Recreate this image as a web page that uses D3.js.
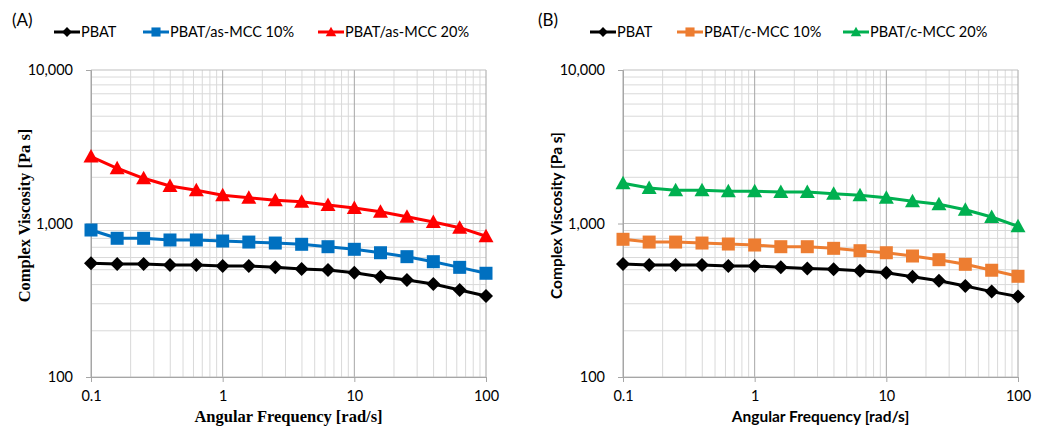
<!DOCTYPE html>
<html>
<head>
<meta charset="utf-8">
<script src="https://d3js.org/d3.v7.min.js"></script>
<style>
  body { margin: 0; background: #fff; }
  svg { display: block; }
</style>
</head>
<body>
<div id="chart"></div>
<script>
// angular frequency (rad/s), shared by all series
var freq = [0.1, 0.158, 0.251, 0.398, 0.631, 1, 1.58, 2.51, 3.98, 6.31, 10, 15.8, 25.1, 39.8, 63.1, 100];

// panel (A)
var pbatA    = [551, 545, 545, 537, 537, 529, 529, 518, 506, 498, 478, 450, 428, 403, 369, 337];
var asMcc10  = [907, 801, 801, 781, 781, 769, 757, 746, 732, 706, 679, 645, 608, 564, 518, 474];
var asMcc20  = [2730, 2290, 1970, 1755, 1645, 1527, 1472, 1416, 1387, 1320, 1262, 1194, 1107, 1023, 939, 826];

// panel (B)
var pbatB    = [545, 537, 537, 537, 529, 529, 518, 510, 503, 493, 478, 450, 424, 392, 360, 334];
var cMcc10   = [789, 757, 757, 746, 735, 724, 706, 706, 689, 665, 645, 614, 581, 542, 496, 453];
var cMcc20   = [1828, 1703, 1646, 1646, 1622, 1622, 1604, 1604, 1563, 1527, 1472, 1396, 1334, 1230, 1103, 959];

var xTicks = [0.1, 1, 10, 100];
var yTicks = [100, 1000, 10000];

var width = 1046, height = 427;
var svg = d3.select("#chart").append("svg")
  .attr("width", width)
  .attr("height", height);

var sans = "Lato, 'Liberation Sans', sans-serif";
var serif = "'Liberation Serif', 'DejaVu Serif', serif";

var panels = [
  {
    tag: "(A)", tagX: 12, left: 91, right: 486, titleFont: serif, titleSize: "16.5px",
    legendX: [54, 143, 318],
    series: [
      { name: "PBAT", values: pbatA, color: "#000000", marker: "diamond" },
      { name: "PBAT/as-MCC 10%", values: asMcc10, color: "#0070C0", marker: "square" },
      { name: "PBAT/as-MCC 20%", values: asMcc20, color: "#FF0000", marker: "triangle" }
    ]
  },
  {
    tag: "(B)", tagX: 538, left: 623, right: 1018, titleFont: sans, titleSize: "15.5px",
    legendX: [590, 677, 843],
    series: [
      { name: "PBAT", values: pbatB, color: "#000000", marker: "diamond" },
      { name: "PBAT/c-MCC 10%", values: cMcc10, color: "#ED7D31", marker: "square" },
      { name: "PBAT/c-MCC 20%", values: cMcc20, color: "#00B050", marker: "triangle" }
    ]
  }
];

var plotTop = 70, plotBottom = 377;

function markerPath(type) {
  if (type == "diamond") return "M0,-7L7,0L0,7L-7,0Z";
  if (type == "square") return "M-6.5,-6.5H6.5V6.5H-6.5Z";
  return "M0,-7.5L7.5,6L-7.5,6Z";
}

// minor values for log grid
function minors(lo, hi) {
  var out = [];
  for (var p = lo; p < hi; p *= 10) {
    for (var k = 2; k <= 9; k++) out.push(p * k);
  }
  return out;
}

panels.forEach(function(p) {
  var x = d3.scaleLog().domain([0.1, 100]).range([p.left, p.right]);
  var y = d3.scaleLog().domain([100, 10000]).range([plotBottom, plotTop]);
  var g = svg.append("g");

  // gridlines
  g.selectAll(".vminor").data(minors(0.1, 100)).enter().append("line")
    .attr("x1", function(d) { return x(d); }).attr("x2", function(d) { return x(d); })
    .attr("y1", plotTop).attr("y2", plotBottom)
    .attr("stroke", "#d9d9d9").attr("stroke-width", 1);
  g.selectAll(".hminor").data(minors(100, 10000)).enter().append("line")
    .attr("y1", function(d) { return y(d); }).attr("y2", function(d) { return y(d); })
    .attr("x1", p.left).attr("x2", p.right)
    .attr("stroke", "#d9d9d9").attr("stroke-width", 1);
  g.selectAll(".vmajor").data(xTicks).enter().append("line")
    .attr("x1", function(d) { return x(d); }).attr("x2", function(d) { return x(d); })
    .attr("y1", plotTop).attr("y2", plotBottom)
    .attr("stroke", "#a6a6a6").attr("stroke-width", 1);
  g.selectAll(".hmajor").data(yTicks).enter().append("line")
    .attr("y1", function(d) { return y(d); }).attr("y2", function(d) { return y(d); })
    .attr("x1", p.left).attr("x2", p.right)
    .attr("stroke", "#bfbfbf").attr("stroke-width", 1);

  // axes
  var xAxis = d3.axisBottom(x).tickValues(xTicks).tickSize(5).tickPadding(9)
    .tickFormat(function(d) { return d < 1 ? d3.format(".1f")(d) : d3.format("d")(d); });
  var yAxis = d3.axisLeft(y).tickValues(yTicks).tickSize(5).tickPadding(13)
    .tickFormat(d3.format(","));

  var gx = g.append("g").attr("transform", "translate(0," + plotBottom + ")").call(xAxis);
  var gy = g.append("g").attr("transform", "translate(" + p.left + ",0)").call(yAxis);
  [gx, gy].forEach(function(a) {
    a.select(".domain").attr("stroke", "#a6a6a6");
    a.selectAll(".tick line").attr("stroke", "#a6a6a6");
    a.selectAll(".tick text").attr("fill", "#000").style("font-family", sans).style("font-size", "14.5px");
  });

  // axis titles
  g.append("text")
    .attr("x", (p.left + p.right) / 2)
    .attr("y", 422)
    .attr("text-anchor", "middle")
    .style("font-family", p.titleFont)
    .style("font-weight", "bold")
    .style("font-size", p.titleSize)
    .text("Angular Frequency [rad/s]");
  g.append("text")
    .attr("transform", "translate(" + (p.left - 61) + "," + ((plotTop + plotBottom) / 2 - 8) + ") rotate(-90)")
    .attr("text-anchor", "middle")
    .style("font-family", p.titleFont)
    .style("font-weight", "bold")
    .style("font-size", p.titleSize)
    .text("Complex Viscosity [Pa s]");

  // panel tag
  g.append("text")
    .attr("x", p.tagX).attr("y", 26)
    .style("font-family", sans)
    .style("font-size", "17px")
    .text(p.tag);

  // series
  var line = d3.line()
    .x(function(d, i) { return x(freq[i]); })
    .y(function(d) { return y(d); });

  p.series.forEach(function(s) {
    g.append("path")
      .datum(s.values)
      .attr("fill", "none")
      .attr("stroke", s.color)
      .attr("stroke-width", 3)
      .attr("stroke-linejoin", "round")
      .attr("d", line);
    g.selectAll(null).data(s.values).enter().append("path")
      .attr("transform", function(d, i) { return "translate(" + x(freq[i]) + "," + y(d) + ")"; })
      .attr("d", markerPath(s.marker))
      .attr("fill", s.color);
  });

  // legend
  p.series.forEach(function(s, i) {
    var lx = p.legendX[i], ly = 32;
    var lg = g.append("g");
    lg.append("line")
      .attr("x1", lx).attr("x2", lx + 26)
      .attr("y1", ly).attr("y2", ly)
      .attr("stroke", s.color).attr("stroke-width", 3);
    lg.append("path")
      .attr("transform", "translate(" + (lx + 13) + "," + ly + ") scale(0.7)")
      .attr("d", markerPath(s.marker))
      .attr("fill", s.color);
    lg.append("text")
      .attr("x", lx + 27).attr("y", ly + 5)
      .style("font-family", sans)
      .style("font-size", "14.5px")
      .text(s.name);
  });
});
</script>
</body>
</html>
